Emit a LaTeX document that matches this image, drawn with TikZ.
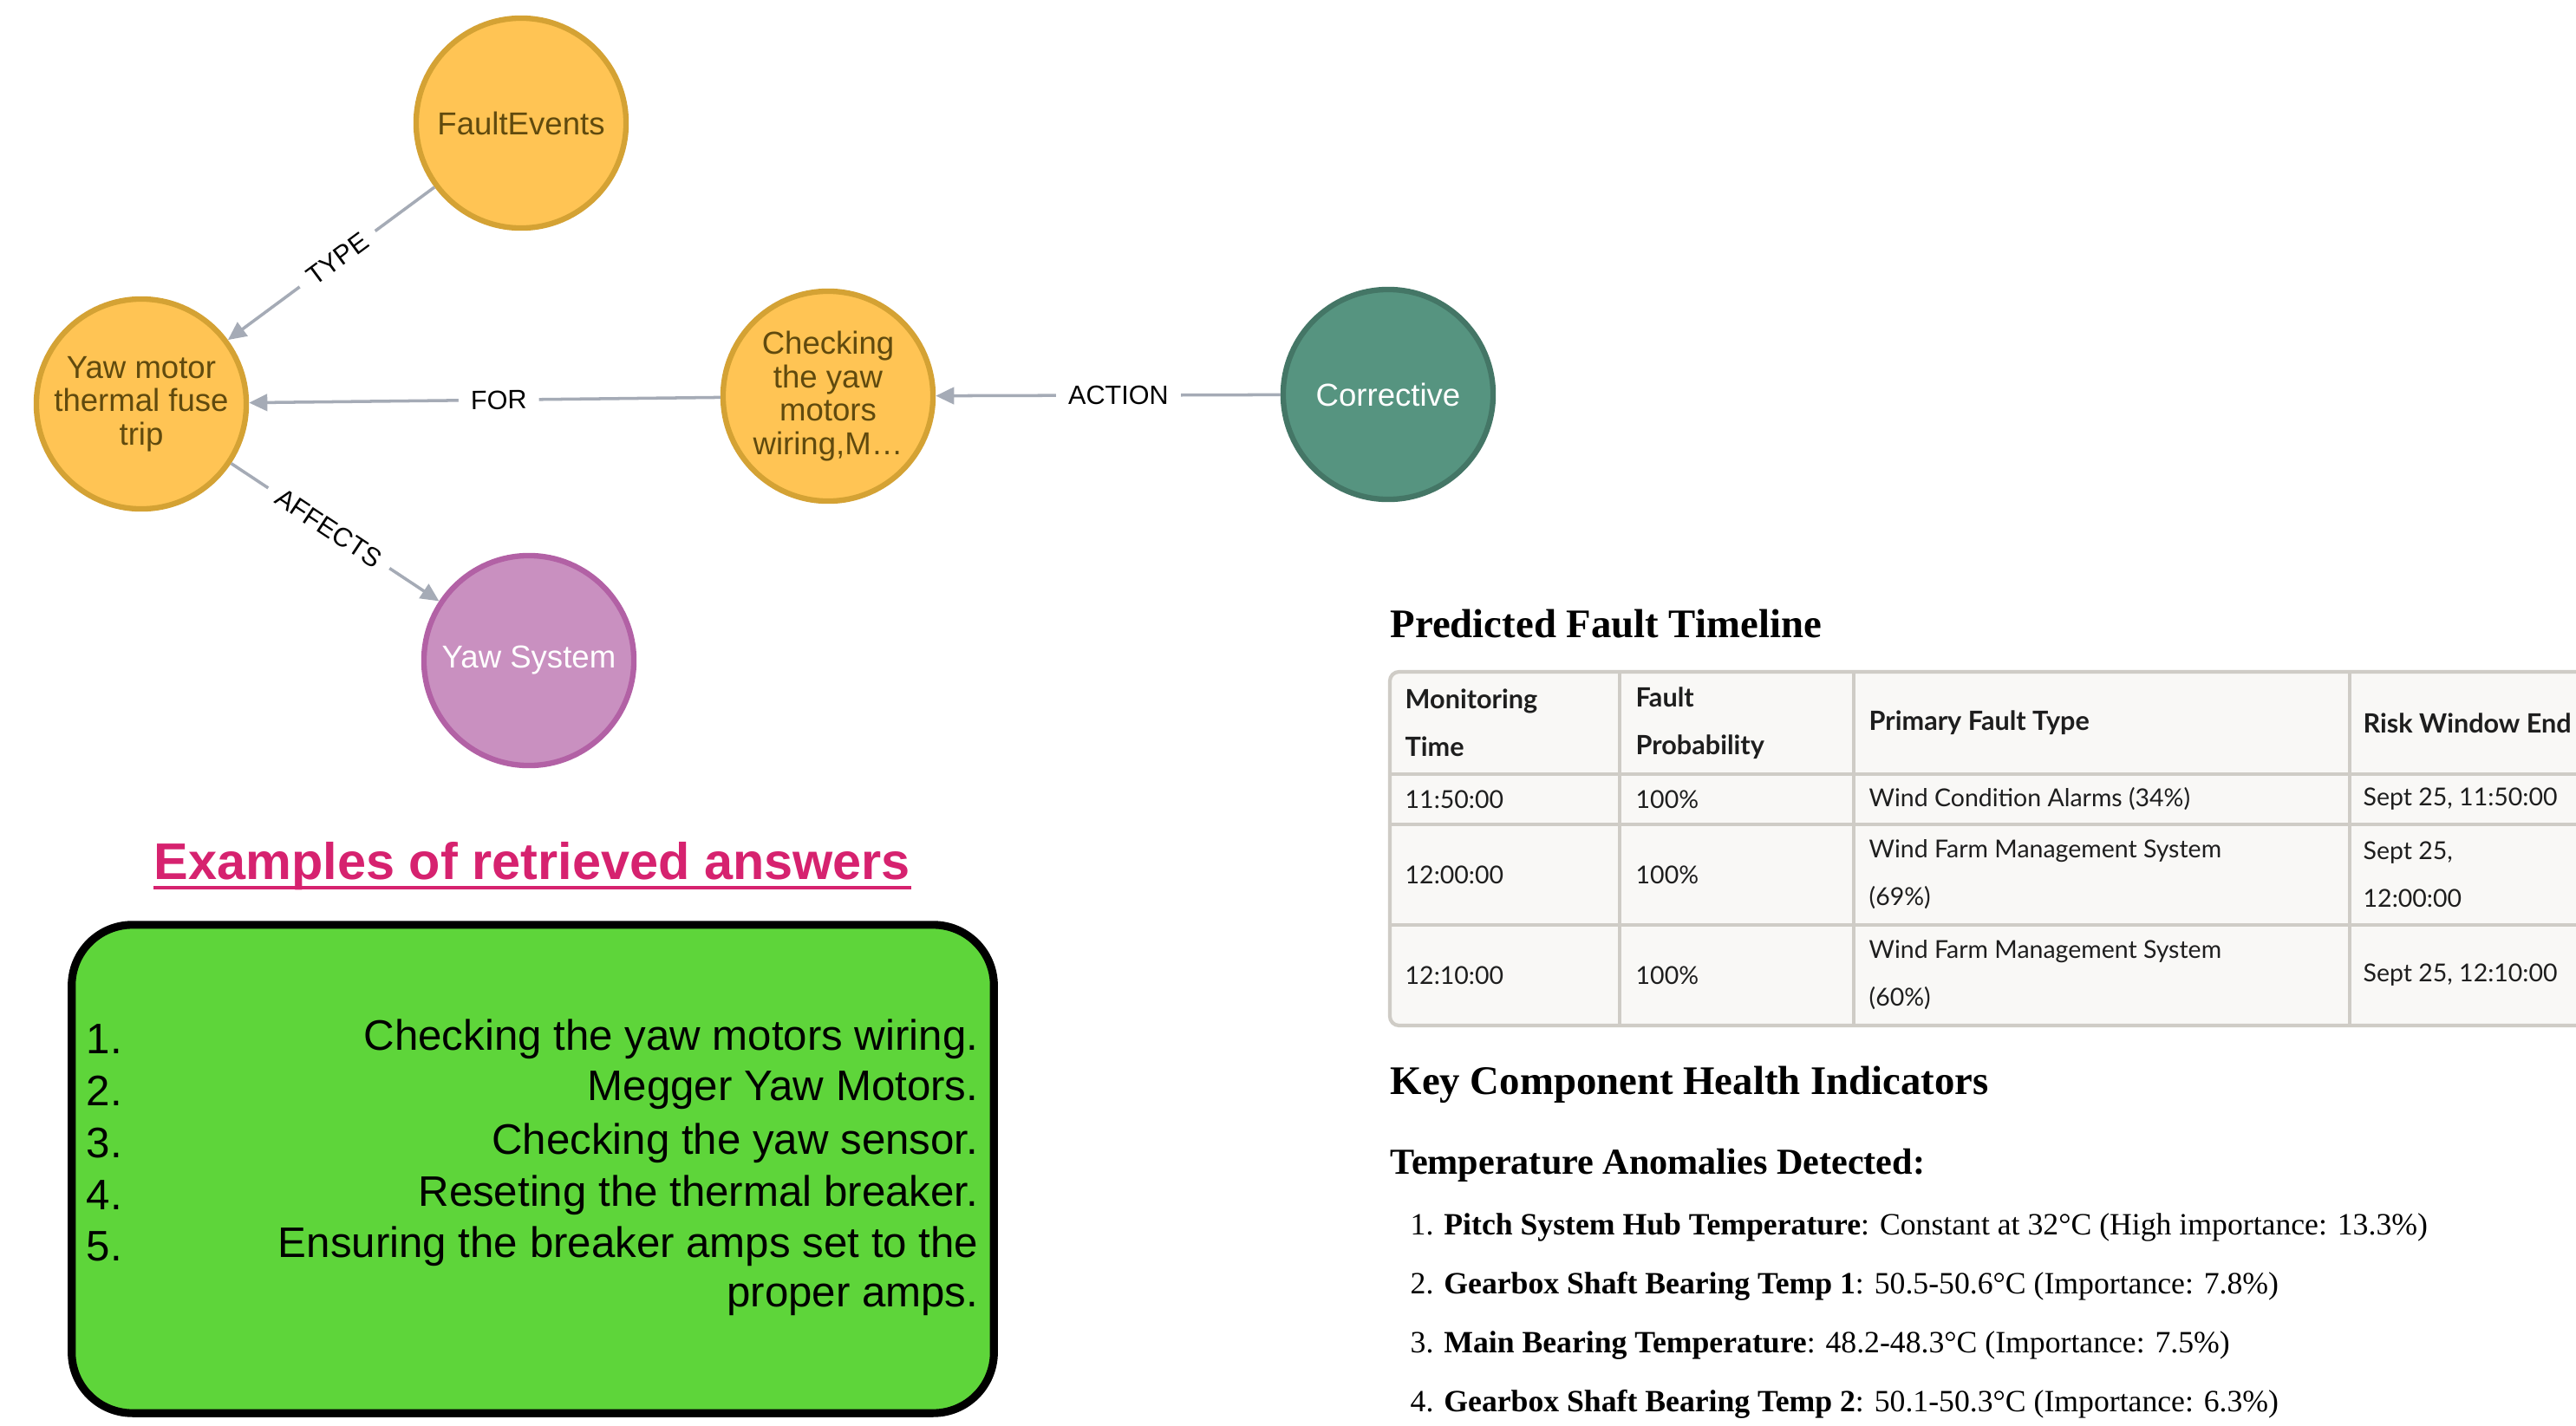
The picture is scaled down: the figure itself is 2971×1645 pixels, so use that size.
\documentclass[tikz,border=0pt]{standalone}
\usepackage{fontspec}
\setmainfont{Liberation Serif}
\newfontfamily\graphfont{Liberation Sans}
\newfontfamily\tablefont{Lato}
\usetikzlibrary{arrows.meta,calc,positioning}
\definecolor{orangefill}{HTML}{FFC454}
\definecolor{orangeborder}{HTML}{D4A234}
\definecolor{orangetext}{HTML}{604A0E}
\definecolor{tealfill}{HTML}{569480}
\definecolor{tealborder}{HTML}{447666}
\definecolor{pinkfill}{HTML}{C990C0}
\definecolor{pinkborder}{HTML}{B261A5}
\definecolor{relgray}{HTML}{A5ABB6}
\definecolor{titlepink}{HTML}{D6226F}
\definecolor{answergreen}{HTML}{5ED53A}
\definecolor{tablefill}{HTML}{F9F8F6}
\definecolor{tableline}{HTML}{CFCCC6}
\definecolor{tableink}{HTML}{1E1E1E}

\begin{document}
\begin{tikzpicture}[
  x=0.01cm, y=-0.01cm,
  >={Triangle[length=6pt,width=5.5pt]},
  entity/.style={circle, minimum size=2.42cm, inner sep=0pt, line width=1.8pt, align=center,
    font=\graphfont\fontsize{10.4}{11}\selectfont},
  amber/.style={entity, fill=orangefill, draw=orangeborder, text=orangetext},
  rel/.style={->, draw=relgray, line width=1pt},
  rellabel/.style={fill=white, text=black, inner sep=4pt, sloped, pos=0.47, font=\graphfont\fontsize{8.7}{10}\selectfont},
  headline/.style={anchor=west, inner sep=0pt, text=black, font=\bfseries\fontsize{13.3}{15}\selectfont},
  cell/.style={anchor=west, inner sep=0pt, align=left, text=tableink, font=\tablefont\fontsize{8.1}{15.6}\selectfont},
  headcell/.style={cell, font=\tablefont\bfseries\fontsize{8.7}{15.6}\selectfont},
  anomaly/.style={anchor=west, inner sep=0pt, text=black, font=\fontsize{10.15}{12}\selectfont},
  answer/.style={anchor=east, inner sep=0pt, text=black, font=\graphfont\fontsize{14}{17}\selectfont},
  answernum/.style={anchor=west, inner sep=0pt, text=black, font=\graphfont\fontsize{14}{17}\selectfont}
]
\clip (0,0) rectangle (2971,1645);
\fill[white] (0,0) rectangle (2971,1645);

\node[amber] (fault) at (601,142) {FaultEvents};
\node[amber] (yawfuse) at (163,466) {Yaw motor\\thermal fuse\\trip};
\node[amber] (checking) at (955,457) {Checking\\the yaw\\motors\\wiring,M…};
\node[entity, fill=tealfill, draw=tealborder, text=white] (corrective) at (1601,455) {Corrective};
\node[entity, fill=pinkfill, draw=pinkborder, text=white] (yawsys) at (610,762) {Yaw System};

\draw[rel] (fault) -- node[rellabel] {TYPE} (yawfuse);
\draw[rel] (checking) -- node[rellabel] {FOR} (yawfuse);
\draw[rel] (corrective) -- node[rellabel] {ACTION} (checking);
\draw[rel] (yawfuse) -- node[rellabel] {AFFECTS} (yawsys);

\node[text=titlepink, inner sep=0pt, font=\graphfont\bfseries\fontsize{16.9}{20}\selectfont] (title) at (614,999)
  {Examples of retrieved answers};
\draw[titlepink, line width=1.1pt] ($(title.base west)+(0,10)$) -- ($(title.base east)+(0,10)$);

\node[draw=black, fill=answergreen, line width=2.6pt, rounded corners=0.7cm,
  minimum width=10.63cm, minimum height=5.63cm] (answers) at (614.5,1348.5) {};

\node[answernum] (n1) at (99,1199) {1.};
\node[answernum] (n2) at (99,1258) {2.};
\node[answernum] (n3) at (99,1319) {3.};
\node[answernum] (n4) at (99,1379) {4.};
\node[answernum] (n5) at (99,1438) {5.};
\node[answer] (a1) at (1129,1199) {Checking the yaw motors wiring.};
\node[answer] (a2) at (1129,1258) {Megger Yaw Motors.};
\node[answer] (a3) at (1129,1319) {Checking the yaw sensor.};
\node[answer] (a4) at (1129,1379) {Reseting the thermal breaker.};
\node[answer] (a5) at (1129,1438) {Ensuring the breaker amps set to the};
\node[answer] (a5b) at (1129,1499) {proper amps.};

\node[headline] (timeline) at (1603,720) {Predicted Fault Timeline};

\draw[tableline, fill=tablefill, line width=1.2pt, rounded corners=3pt] (1603,775) rectangle (3010,1183);
\draw[tableline, line width=1.2pt] (1603,893) -- (3010,893);
\draw[tableline, line width=1.2pt] (1603,951) -- (3010,951);
\draw[tableline, line width=1.2pt] (1603,1067) -- (3010,1067);
\draw[tableline, line width=1.2pt] (1868,775) -- (1868,1183);
\draw[tableline, line width=1.2pt] (2138,775) -- (2138,1183);
\draw[tableline, line width=1.2pt] (2710,775) -- (2710,1183);

\node[headcell] (h1) at (1620,834) {Monitoring\\Time};
\node[headcell] (h2) at (1886,834) {Fault\\Probability};
\node[headcell] (h3) at (2155,834) {Primary Fault Type};
\node[headcell] (h4) at (2725,834) {Risk Window End};
\node[cell] (r1c1) at (1620,922) {11:50:00};
\node[cell] (r1c2) at (1886,922) {100\%};
\node[cell] (r1c3) at (2155,922) {Wind Condition Alarms (34\%)};
\node[cell] (r1c4) at (2725,922) {Sept 25, 11:50:00};
\node[cell] (r2c1) at (1620,1009) {12:00:00};
\node[cell] (r2c2) at (1886,1009) {100\%};
\node[cell] (r2c3) at (2155,1009) {Wind Farm Management System\\(69\%)};
\node[cell] (r2c4) at (2725,1009) {Sept 25,\\12:00:00};
\node[cell] (r3c1) at (1620,1125) {12:10:00};
\node[cell] (r3c2) at (1886,1125) {100\%};
\node[cell] (r3c3) at (2155,1125) {Wind Farm Management System\\(60\%)};
\node[cell] (r3c4) at (2725,1125) {Sept 25, 12:10:00};

\node[headline] (health) at (1603,1251) {Key Component Health Indicators};
\node[headline, font=\bfseries\fontsize{12}{14}\selectfont] (anomalies) at (1603,1344) {Temperature Anomalies Detected:};

\node[anomaly] (m1) at (1626,1416) {1. \textbf{Pitch System Hub Temperature}: Constant at 32°C (High importance: 13.3\%)};
\node[anomaly] (m2) at (1626,1484) {2. \textbf{Gearbox Shaft Bearing Temp 1}: 50.5-50.6°C (Importance: 7.8\%)};
\node[anomaly] (m3) at (1626,1552) {3. \textbf{Main Bearing Temperature}: 48.2-48.3°C (Importance: 7.5\%)};
\node[anomaly] (m4) at (1626,1620) {4. \textbf{Gearbox Shaft Bearing Temp 2}: 50.1-50.3°C (Importance: 6.3\%)};
\end{tikzpicture}
\end{document}
